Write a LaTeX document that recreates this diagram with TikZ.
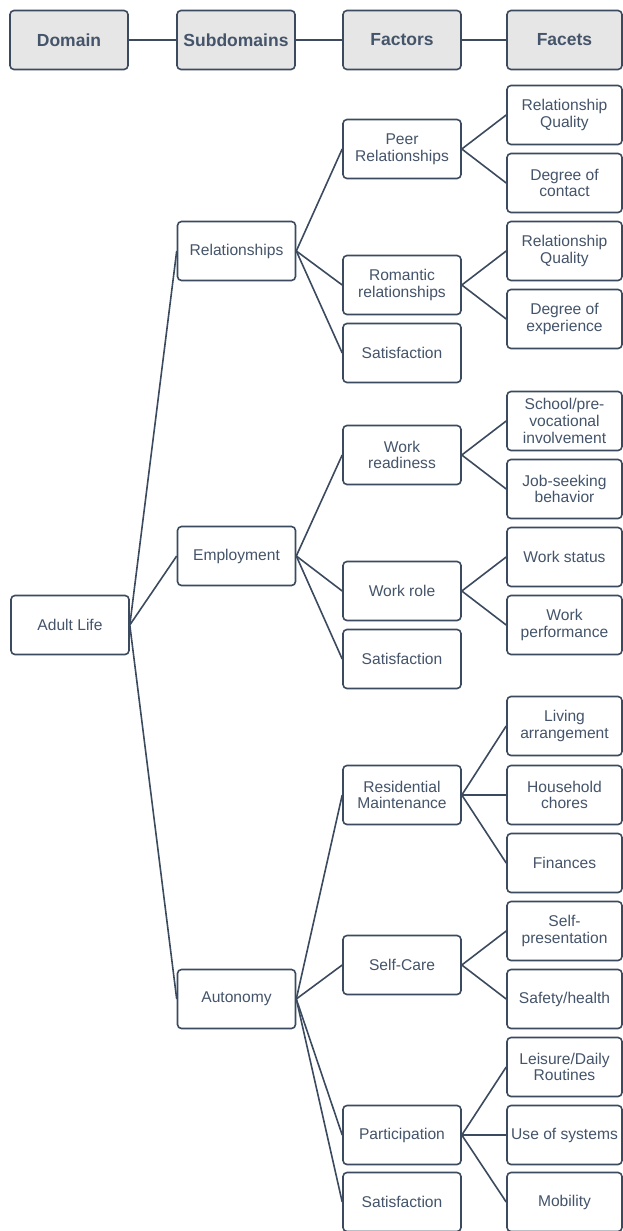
\documentclass[tikz,border=0pt]{standalone}
\usepackage{fontspec}
\setmainfont{Liberation Sans}
\definecolor{linec}{HTML}{3B4A5E}
\definecolor{textc}{HTML}{44546A}
\definecolor{headfill}{HTML}{E7E6E6}
\begin{document}
\begin{tikzpicture}[x=1pt,y=-1pt,
  box/.style={draw=linec, line width=1.6pt, rounded corners=4pt, fill=white,
    minimum width=118pt, minimum height=59pt, inner sep=1pt, align=center,
    text=textc, font=\fontsize{15.6}{16.8}\selectfont},
  facet/.style={box, minimum width=115pt},
  head/.style={box, fill=headfill, font=\fontsize{17.5}{19}\selectfont\bfseries},
  link/.style={draw=linec, line width=1.6pt},
  hlink/.style={draw=linec, line width=2.7pt}]
\useasboundingbox (0,0) rectangle (623,1231);
% header
\node[head] (hD) at (69,40) {Domain};
\node[head] (hS) at (236,40) {Subdomains};
\node[head] (hF) at (402,40) {Factors};
\node[head, minimum width=115pt] (hC) at (564.5,40) {Facets};
\draw[hlink] (hD) -- (hS);
\draw[hlink] (hS) -- (hF);
\draw[hlink] (hF) -- (hC);
% tree
\node[box] (adult) at (70,625) {Adult Life};
\node[box] (rel) at (236.5,251) {Relationships};
\node[box] (emp) at (236.5,556) {Employment};
\node[box] (aut) at (236.5,999) {Autonomy};
% factors
\node[box] (peer) at (402,149) {Peer\\Relationships};
\node[box] (rom) at (402,285) {Romantic\\relationships};
\node[box] (sat1) at (402,353) {Satisfaction};
\node[box] (wrd) at (402,455) {Work\\readiness};
\node[box] (wrl) at (402,591) {Work role};
\node[box] (sat2) at (402,659) {Satisfaction};
\node[box] (res) at (402,795) {Residential\\Maintenance};
\node[box] (sc) at (402,965) {Self-Care};
\node[box] (par) at (402,1135) {Participation};
\node[box] (sat3) at (402,1202) {Satisfaction};
% facets
\node[facet] (f1) at (564.5,115) {Relationship\\Quality};
\node[facet] (f2) at (564.5,183) {Degree of\\contact};
\node[facet] (f3) at (564.5,251) {Relationship\\Quality};
\node[facet] (f4) at (564.5,319) {Degree of\\experience};
\node[facet] (f5) at (564.5,421) {School/pre-\\vocational\\involvement};
\node[facet] (f6) at (564.5,489) {Job-seeking\\behavior};
\node[facet] (f7) at (564.5,557) {Work status};
\node[facet] (f8) at (564.5,625) {Work\\performance};
\node[facet] (f9) at (564.5,726) {Living\\arrangement};
\node[facet] (f10) at (564.5,795) {Household\\chores};
\node[facet] (f11) at (564.5,863) {Finances};
\node[facet] (f12) at (564.5,931) {Self-\\presentation};
\node[facet] (f13) at (564.5,999) {Safety/health};
\node[facet] (f14) at (564.5,1067) {Leisure/Daily\\Routines};
\node[facet] (f15) at (564.5,1135) {Use of systems};
\node[facet] (f16) at (564.5,1202) {Mobility};
% connectors
\foreach \c in {rel,emp,aut} \draw[link] (adult.east) -- (\c.west);
\foreach \c in {peer,rom,sat1} \draw[link] (rel.east) -- (\c.west);
\foreach \c in {wrd,wrl,sat2} \draw[link] (emp.east) -- (\c.west);
\foreach \c in {res,sc,par,sat3} \draw[link] (aut.east) -- (\c.west);
\foreach \c in {f1,f2} \draw[link] (peer.east) -- (\c.west);
\foreach \c in {f3,f4} \draw[link] (rom.east) -- (\c.west);
\foreach \c in {f5,f6} \draw[link] (wrd.east) -- (\c.west);
\foreach \c in {f7,f8} \draw[link] (wrl.east) -- (\c.west);
\foreach \c in {f9,f10,f11} \draw[link] (res.east) -- (\c.west);
\foreach \c in {f12,f13} \draw[link] (sc.east) -- (\c.west);
\foreach \c in {f14,f16} \draw[link] (par.east) -- (\c.west);
\draw[hlink] (par.east) -- (f15.west);
\end{tikzpicture}
\end{document}
